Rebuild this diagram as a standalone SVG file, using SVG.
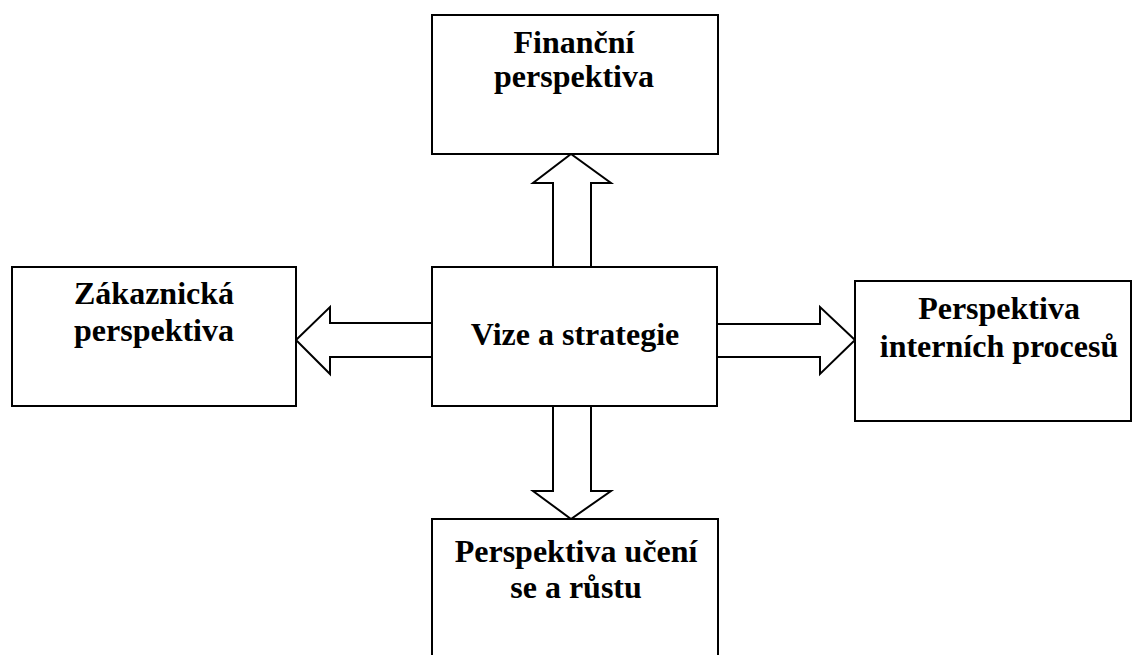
<svg xmlns="http://www.w3.org/2000/svg" width="1132" height="655" viewBox="0 0 1132 655">
<style>
.box{fill:#fff;stroke:#000;stroke-width:2}
.arr{fill:#fff;stroke:#000;stroke-width:2;stroke-linejoin:miter}
text{font-family:"Liberation Serif","Times New Roman",serif;font-weight:bold;font-size:32px;fill:#000;text-anchor:middle}
</style>
<rect width="1132" height="655" fill="#fff"/>
<g id="connectors">
<polygon class="arr" points="553,267 553,183 533,183 571,154 611,183 591,183 591,267"/>
<polygon class="arr" points="432,323 330,323 330,307 296,340 330,374 330,357 432,357"/>
<polygon class="arr" points="717,324 820,324 820,307 855,340 820,374 820,357 717,357"/>
<polygon class="arr" points="553,406 553,491 533,491 571,519 611,491 591,491 591,406"/>
</g>
<g id="financni">
<rect class="box" x="432" y="15" width="286" height="139"/>
<text x="574" y="53">Finanční</text>
<text x="574" y="87">perspektiva</text>
</g>
<g id="vize">
<rect class="box" x="432" y="267" width="285" height="139"/>
<text x="575" y="345">Vize a strategie</text>
</g>
<g id="zakaznicka">
<rect class="box" x="12" y="267" width="284" height="139"/>
<text x="154" y="304">Zákaznická</text>
<text x="154" y="341">perspektiva</text>
</g>
<g id="interni">
<rect class="box" x="855" y="281" width="276" height="140"/>
<text x="999" y="319">Perspektiva</text>
<text x="999" y="357">interních procesů</text>
</g>
<g id="uceni">
<rect class="box" x="432" y="519" width="286" height="150"/>
<text x="576" y="562">Perspektiva učení</text>
<text x="576" y="598">se a růstu</text>
</g>
</svg>
